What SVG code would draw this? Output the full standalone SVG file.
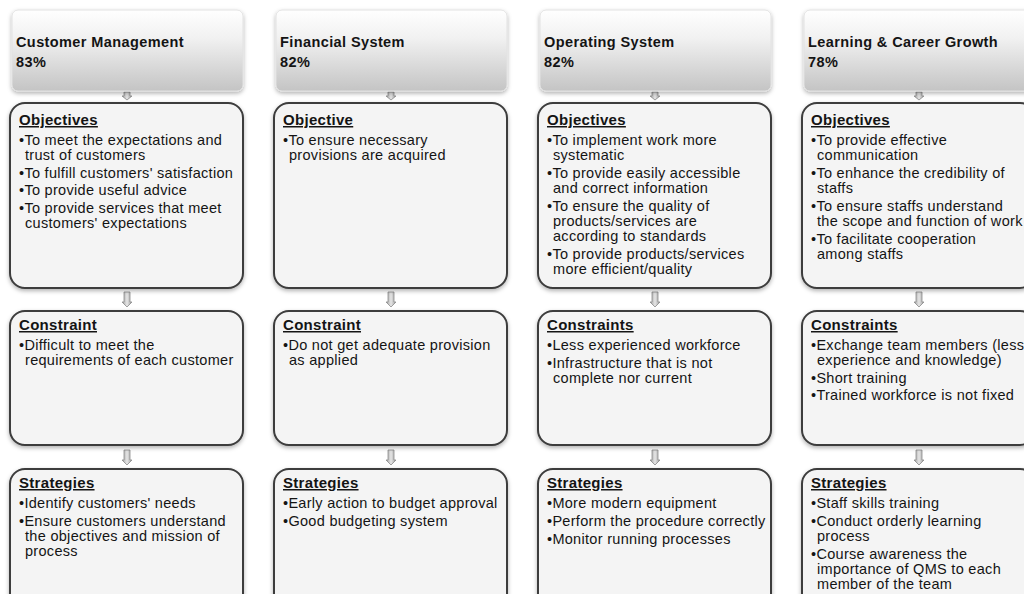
<svg xmlns="http://www.w3.org/2000/svg" width="1024" height="594" viewBox="0 0 1024 594">
  <defs>
    <linearGradient id="hdrFill" x1="0" y1="0" x2="0" y2="1">
      <stop offset="0" stop-color="#ffffff"/>
      <stop offset="0.35" stop-color="#f1f1f1"/>
      <stop offset="1" stop-color="#c4c4c4"/>
    </linearGradient>
    <linearGradient id="arrowFill" x1="0" y1="0" x2="1" y2="0">
      <stop offset="0" stop-color="#9a9a9a"/>
      <stop offset="0.5" stop-color="#e6e6e6"/>
      <stop offset="1" stop-color="#9a9a9a"/>
    </linearGradient>
    <filter id="shadow" x="-10%" y="-10%" width="120%" height="125%">
      <feDropShadow dx="0" dy="2" stdDeviation="2" flood-color="#000" flood-opacity="0.3"/>
    </filter>
  </defs>
  <style>
    .hdr { fill: url(#hdrFill); stroke: #e2e2e2; stroke-width: 1; filter: url(#shadow); }
    .box { fill: #f4f4f4; stroke: #3c3c3c; stroke-width: 2; filter: url(#shadow); }
    .arrow { fill: url(#arrowFill); stroke: #8c8c8c; stroke-width: 0.8; }
    text { font-family: "Liberation Sans", Arial, sans-serif; fill: #141414; }
    .ht { font-size: 14.5px; font-weight: bold; letter-spacing: 0.4px; }
    .sec { font-size: 15px; font-weight: bold; text-decoration: underline; letter-spacing: 0.3px; }
    .b { font-size: 14.5px; letter-spacing: 0.3px; }
  </style>
  <rect width="1024" height="594" fill="#ffffff"/>

  <!-- connectors: small block arrows between stacked boxes -->
  <g id="connectors">
    <path class="arrow" d="M124,92 h6 v4 h2 l-5,4 l-5,-4 h2 z"/>
    <path class="arrow" d="M124,292 h6 v10 h2 l-5,5 l-5,-5 h2 z"/>
    <path class="arrow" d="M124,450 h6 v10 h2 l-5,5 l-5,-5 h2 z"/>
    <path class="arrow" d="M388,92 h6 v4 h2 l-5,4 l-5,-4 h2 z"/>
    <path class="arrow" d="M388,292 h6 v10 h2 l-5,5 l-5,-5 h2 z"/>
    <path class="arrow" d="M388,450 h6 v10 h2 l-5,5 l-5,-5 h2 z"/>
    <path class="arrow" d="M652,92 h6 v4 h2 l-5,4 l-5,-4 h2 z"/>
    <path class="arrow" d="M652,292 h6 v10 h2 l-5,5 l-5,-5 h2 z"/>
    <path class="arrow" d="M652,450 h6 v10 h2 l-5,5 l-5,-5 h2 z"/>
    <path class="arrow" d="M916,92 h6 v4 h2 l-5,4 l-5,-4 h2 z"/>
    <path class="arrow" d="M916,292 h6 v10 h2 l-5,5 l-5,-5 h2 z"/>
    <path class="arrow" d="M916,450 h6 v10 h2 l-5,5 l-5,-5 h2 z"/>
  </g>

  <!-- Column 1: Customer Management -->
  <g id="cm-header">
    <rect class="hdr" x="12" y="10" width="231" height="81" rx="6"/>
    <text class="ht" x="16" y="47">Customer Management</text>
    <text class="ht" x="16" y="67">83%</text>
  </g>
  <g id="cm-objectives">
    <rect class="box" x="10" y="103" width="233" height="185" rx="15"/>
    <text class="sec" x="19" y="125">Objectives</text>
    <text class="b" x="19" y="145">•To meet the expectations and</text>
    <text class="b" x="25" y="160">trust of customers</text>
    <text class="b" x="19" y="178">•To fulfill customers' satisfaction</text>
    <text class="b" x="19" y="195">•To provide useful advice</text>
    <text class="b" x="19" y="213">•To provide services that meet</text>
    <text class="b" x="25" y="228">customers' expectations</text>
  </g>
  <g id="cm-constraint">
    <rect class="box" x="10" y="311" width="233" height="134" rx="15"/>
    <text class="sec" x="19" y="330">Constraint</text>
    <text class="b" x="19" y="350">•Difficult to meet the</text>
    <text class="b" x="25" y="365">requirements of each customer</text>
  </g>
  <g id="cm-strategies">
    <rect class="box" x="10" y="469" width="233" height="140" rx="15"/>
    <text class="sec" x="19" y="488">Strategies</text>
    <text class="b" x="19" y="508">•Identify customers' needs</text>
    <text class="b" x="19" y="526">•Ensure customers understand</text>
    <text class="b" x="25" y="541">the objectives and mission of</text>
    <text class="b" x="25" y="556">process</text>
  </g>

  <!-- Column 2: Financial System -->
  <g id="fs-header">
    <rect class="hdr" x="276" y="10" width="231" height="81" rx="6"/>
    <text class="ht" x="280" y="47">Financial System</text>
    <text class="ht" x="280" y="67">82%</text>
  </g>
  <g id="fs-objective">
    <rect class="box" x="274" y="103" width="233" height="185" rx="15"/>
    <text class="sec" x="283" y="125">Objective</text>
    <text class="b" x="283" y="145">•To ensure necessary</text>
    <text class="b" x="289" y="160">provisions are acquired</text>
  </g>
  <g id="fs-constraint">
    <rect class="box" x="274" y="311" width="233" height="134" rx="15"/>
    <text class="sec" x="283" y="330">Constraint</text>
    <text class="b" x="283" y="350">•Do not get adequate provision</text>
    <text class="b" x="289" y="365">as applied</text>
  </g>
  <g id="fs-strategies">
    <rect class="box" x="274" y="469" width="233" height="140" rx="15"/>
    <text class="sec" x="283" y="488">Strategies</text>
    <text class="b" x="283" y="508">•Early action to budget approval</text>
    <text class="b" x="283" y="526">•Good budgeting system</text>
  </g>

  <!-- Column 3: Operating System -->
  <g id="os-header">
    <rect class="hdr" x="540" y="10" width="231" height="81" rx="6"/>
    <text class="ht" x="544" y="47">Operating System</text>
    <text class="ht" x="544" y="67">82%</text>
  </g>
  <g id="os-objectives">
    <rect class="box" x="538" y="103" width="233" height="185" rx="15"/>
    <text class="sec" x="547" y="125">Objectives</text>
    <text class="b" x="547" y="145">•To implement work more</text>
    <text class="b" x="553" y="160">systematic</text>
    <text class="b" x="547" y="178">•To provide easily accessible</text>
    <text class="b" x="553" y="193">and correct information</text>
    <text class="b" x="547" y="211">•To ensure the quality of</text>
    <text class="b" x="553" y="226">products/services are</text>
    <text class="b" x="553" y="241">according to standards</text>
    <text class="b" x="547" y="259">•To provide products/services</text>
    <text class="b" x="553" y="274">more efficient/quality</text>
  </g>
  <g id="os-constraints">
    <rect class="box" x="538" y="311" width="233" height="134" rx="15"/>
    <text class="sec" x="547" y="330">Constraints</text>
    <text class="b" x="547" y="350">•Less experienced workforce</text>
    <text class="b" x="547" y="368">•Infrastructure that is not</text>
    <text class="b" x="553" y="383">complete nor current</text>
  </g>
  <g id="os-strategies">
    <rect class="box" x="538" y="469" width="233" height="140" rx="15"/>
    <text class="sec" x="547" y="488">Strategies</text>
    <text class="b" x="547" y="508">•More modern equipment</text>
    <text class="b" x="547" y="526">•Perform the procedure correctly</text>
    <text class="b" x="547" y="544">•Monitor running processes</text>
  </g>

  <!-- Column 4: Learning & Career Growth -->
  <g id="lc-header">
    <rect class="hdr" x="804" y="10" width="231" height="81" rx="6"/>
    <text class="ht" x="808" y="47">Learning &amp; Career Growth</text>
    <text class="ht" x="808" y="67">78%</text>
  </g>
  <g id="lc-objectives">
    <rect class="box" x="802" y="103" width="233" height="185" rx="15"/>
    <text class="sec" x="811" y="125">Objectives</text>
    <text class="b" x="811" y="145">•To provide effective</text>
    <text class="b" x="817" y="160">communication</text>
    <text class="b" x="811" y="178">•To enhance the credibility of</text>
    <text class="b" x="817" y="193">staffs</text>
    <text class="b" x="811" y="211">•To ensure staffs understand</text>
    <text class="b" x="817" y="226">the scope and function of work</text>
    <text class="b" x="811" y="244">•To facilitate cooperation</text>
    <text class="b" x="817" y="259">among staffs</text>
  </g>
  <g id="lc-constraints">
    <rect class="box" x="802" y="311" width="233" height="134" rx="15"/>
    <text class="sec" x="811" y="330">Constraints</text>
    <text class="b" x="811" y="350">•Exchange team members (less</text>
    <text class="b" x="817" y="365">experience and knowledge)</text>
    <text class="b" x="811" y="383">•Short training</text>
    <text class="b" x="811" y="400">•Trained workforce is not fixed</text>
  </g>
  <g id="lc-strategies">
    <rect class="box" x="802" y="469" width="233" height="140" rx="15"/>
    <text class="sec" x="811" y="488">Strategies</text>
    <text class="b" x="811" y="508">•Staff skills training</text>
    <text class="b" x="811" y="526">•Conduct orderly learning</text>
    <text class="b" x="817" y="541">process</text>
    <text class="b" x="811" y="559">•Course awareness the</text>
    <text class="b" x="817" y="574">importance of QMS to each</text>
    <text class="b" x="817" y="589">member of the team</text>
  </g>
</svg>
